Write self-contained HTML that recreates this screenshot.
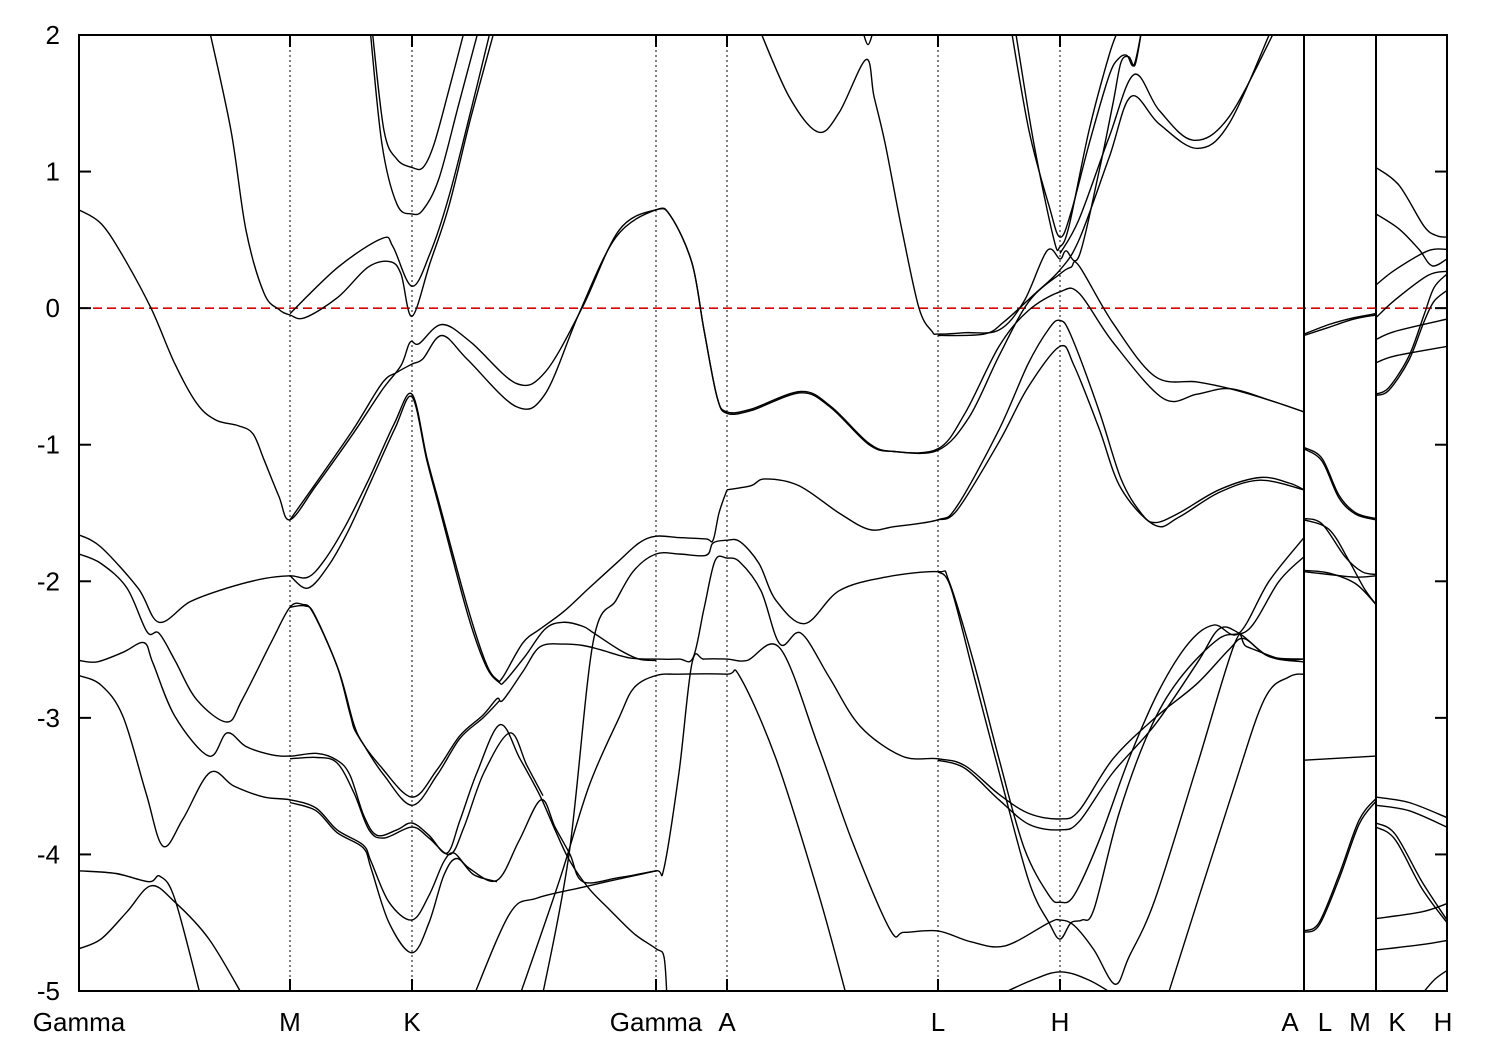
<!DOCTYPE html>
<html>
<head>
<meta charset="utf-8">
<style>
  html, body { margin: 0; padding: 0; background: #fff; }
  svg { display: block; }
  text { font-family: "Liberation Sans", "DejaVu Sans", sans-serif; font-size: 26px; fill: #000; }
</style>
</head>
<body>
<svg id="chart" width="1500" height="1050" viewBox="0 0 1500 1050" xmlns="http://www.w3.org/2000/svg">
  <defs>
    <clipPath id="plotClip"><rect x="79" y="35" width="1368" height="956"></rect></clipPath>
  </defs>
  <rect x="0" y="0" width="1500" height="1050" fill="#fff"></rect>
  <g id="gridG"></g>
  <g id="bandsG" clip-path="url(#plotClip)"></g>
  <g id="axesG"></g>
</svg>
<script>
const yTicks = [2, 1, 0, -1, -2, -3, -4, -5];
const symK = [0, 211, 333, 577, 648, 859, 981, 1225, 1297, 1368];
const symLabels = ["Gamma", "M", "K", "Gamma", "A", "L", "H", "A", "L", "M", "K", "H"];
const symLabelK = [0, 211, 333, 577, 648, 859, 981, 1211, 1246, 1281, 1318, 1364];
const dottedK = [211, 333, 577, 648, 859, 981];
const panelBreakK = [1225, 1297];
const fermiLevel = 0;

const bandA = [[0,0.72],[22,0.62],[44,0.38],[72,0],[96,-0.41],[118,-0.70],[137,-0.82],[159,-0.86],[174,-0.92],[185,-1.11],[200,-1.38],[211,-1.55],[237,-1.30],[274,-0.92],[303,-0.60],[322,-0.42],[331,-0.25],[340,-0.26],[363,-0.12],[392,-0.25],[437,-0.55],[466,-0.47],[503,0],[540,0.57],[577,0.72],[592,0.67],[613,0.33],[625,-0.16],[638,-0.65],[648,-0.76],[672,-0.74],[722,-0.61],[752,-0.72],[790,-0.99],[815,-1.05],[859,-1.03],[886,-0.77],[920,-0.28],[949,-0.02],[981,0.12],[1000,0.11],[1034,-0.25],[1084,-0.66],[1118,-0.63],[1151,-0.59],[1193,-0.68],[1225,-0.76]];
const bandB = [[211,-1.55],[237,-1.28],[274,-0.89],[303,-0.55],[318,-0.47],[333,-0.41],[344,-0.37],[363,-0.2],[389,-0.38],[437,-0.72],[466,-0.63],[500,-0.04],[537,0.52],[577,0.72],[592,0.67],[613,0.33],[625,-0.16],[638,-0.65],[648,-0.77],[672,-0.75],[722,-0.62],[752,-0.73],[790,-1.0],[815,-1.05],[859,-1.04],[890,-0.8],[920,-0.35],[950,0.05],[981,0.25],[992,0.30],[1000,0.31],[1034,-0.11],[1076,-0.5],[1118,-0.54],[1151,-0.59],[1193,-0.68],[1225,-0.76]];
const bandC1 = [[130,2.05],[152,1.30],[167,0.57],[185,0.11],[200,-0.01],[211,-0.05],[226,-0.07],[259,0.08],[289,0.30],[311,0.34],[322,0.25],[333,-0.06],[351,0.33],[370,0.75],[392,1.4],[416,2.05]];
const bandC2 = [[211,-0.04],[259,0.30],[303,0.51],[314,0.45],[333,0.16],[351,0.40],[370,0.82],[392,1.45],[412,2.05]];
const bandC3 = [[293,2.05],[305,1.3],[318,1.09],[333,1.03],[344,1.03],[355,1.2],[370,1.6],[386,2.05]];
const bandC4 = [[291,2.05],[303,1.2],[318,0.76],[333,0.69],[344,0.72],[360,0.95],[380,1.5],[400,2.05]];
const bandT = [[680,2.05],[710,1.55],[739,1.29],[760,1.43],[787,1.82],[795,1.55],[806,1.21],[823,0.57],[840,0],[853,-0.17],[859,-0.19],[886,-0.18],[920,-0.16],[945,0.05],[968,0.42],[981,0.36],[987,0.42],[1000,0.38],[1020,1.0],[1034,1.5],[1042,1.8],[1050,1.84],[1056,1.78],[1063,2.05]];
const bandT2 = [[859,-0.2],[905,-0.19],[925,-0.1],[955,0.1],[981,0.28],[1000,0.5],[1030,1.1],[1052,1.55],[1080,1.35],[1118,1.17],[1150,1.35],[1193,2.05]];
const bandP1 = [[932,2.05],[950,1.3],[970,0.75],[981,0.52],[992,0.7],[1010,1.2],[1030,1.7],[1040,1.83],[1048,1.85],[1055,1.78],[1063,2.05]];
const bandP2 = [[936,2.05],[955,1.2],[975,0.5],[981,0.45],[990,0.6],[1010,1.3],[1030,1.85],[1040,2.05]];
const bandP3 = [[981,0.4],[1000,0.65],[1030,1.25],[1055,1.71],[1080,1.45],[1114,1.23],[1150,1.4],[1197,2.05]];
const bandNotch = [[783,2.05],[789,1.93],[795,2.05]];
const bandD1 = [[648,-1.33],[672,-1.3],[686,-1.25],[720,-1.3],[760,-1.5],[790,-1.62],[815,-1.6],[859,-1.55],[878,-1.45],[920,-0.89],[949,-0.41],[970,-0.15],[981,-0.09],[992,-0.2],[1020,-0.75],[1042,-1.25],[1062,-1.5],[1076,-1.57],[1100,-1.5],[1140,-1.33],[1181,-1.24],[1210,-1.28],[1225,-1.33]];
const bandD2 = [[859,-1.55],[878,-1.48],[920,-0.98],[949,-0.58],[981,-0.28],[995,-0.42],[1020,-0.88],[1042,-1.32],[1076,-1.59],[1100,-1.53],[1140,-1.35],[1181,-1.26],[1225,-1.33]];
const bandGM1 = [[0,-1.66],[22,-1.75],[59,-2.05],[80,-2.30],[111,-2.15],[148,-2.05],[185,-1.98],[211,-1.96],[229,-1.97],[245,-1.85],[266,-1.60],[290,-1.25],[315,-0.85],[333,-0.63],[348,-1.1],[361,-1.45],[389,-2.2],[407,-2.6],[418,-2.72],[424,-2.70],[444,-2.45],[461,-2.35],[485,-2.22],[510,-2.05],[540,-1.85],[560,-1.72],[577,-1.67],[600,-1.68],[627,-1.69],[634,-1.70],[640,-1.5],[648,-1.33]];
const bandK2 = [[211,-1.96],[229,-2.05],[250,-1.88],[270,-1.62],[293,-1.25],[316,-0.88],[333,-0.65],[348,-1.12],[361,-1.48],[389,-2.25],[407,-2.62],[420,-2.74],[426,-2.73],[446,-2.55],[466,-2.35],[484,-2.30],[504,-2.33],[515,-2.38],[540,-2.5],[560,-2.57],[577,-2.58]];
const bandGM2 = [[0,-1.80],[22,-1.87],[48,-2.05],[68,-2.37],[80,-2.38],[96,-2.58],[118,-2.87],[148,-3.03],[163,-2.87],[192,-2.45],[211,-2.19],[224,-2.17],[234,-2.23],[258,-2.62],[271,-2.97],[278,-3.12],[301,-3.35],[333,-3.58],[358,-3.38],[381,-3.13],[404,-2.98],[418,-2.86],[424,-2.87],[444,-2.66],[461,-2.48],[484,-2.46],[504,-2.47],[521,-2.50],[550,-2.56],[577,-2.57],[600,-2.57],[614,-2.56],[625,-2.2],[636,-1.85],[648,-1.83],[661,-1.86],[682,-2.07],[701,-2.46],[722,-2.38],[750,-2.7],[781,-3.06],[823,-3.28],[859,-3.30],[886,-3.35],[920,-3.56],[950,-3.7],[981,-3.74],[1000,-3.68],[1034,-3.3],[1076,-3.0],[1118,-2.75],[1150,-2.5],[1165,-2.42],[1190,-2.55],[1225,-2.57]];
const bandMa2 = [[211,-2.19],[226,-2.18],[236,-2.25],[260,-2.66],[275,-3.05],[285,-3.2],[305,-3.42],[333,-3.64],[358,-3.42],[381,-3.15],[404,-3.0],[421,-2.87]];
const bandS1 = [[463,-5.05],[490,-4.0],[514,-2.45],[537,-2.14],[555,-1.92],[577,-1.80],[600,-1.80],[627,-1.81],[634,-1.72],[648,-1.70],[661,-1.71],[680,-1.87],[697,-2.14],[726,-2.31],[760,-2.07],[806,-1.97],[859,-1.93],[870,-2.0],[895,-2.6],[920,-3.3],[945,-3.95],[970,-4.3],[981,-4.35],[995,-4.3],[1020,-3.9],[1050,-3.3],[1080,-2.8],[1110,-2.45],[1135,-2.32],[1160,-2.38],[1190,-2.0],[1225,-1.68]];
const bandS2 = [[440,-5.05],[480,-4.2],[510,-3.5],[540,-3.0],[555,-2.78],[577,-2.69],[600,-2.68],[648,-2.68],[661,-2.70],[697,-3.3],[740,-4.3],[768,-5.05]];
const bandH2 = [[859,-1.93],[872,-2.05],[897,-2.75],[922,-3.45],[950,-4.2],[970,-4.5],[981,-4.62],[992,-4.5],[1003,-4.48],[1015,-4.4],[1040,-3.7],[1070,-3.1],[1100,-2.72],[1140,-2.42],[1170,-2.35],[1200,-2.0],[1225,-1.82]];
const bandH4 = [[859,-3.31],[886,-3.37],[920,-3.6],[950,-3.78],[981,-3.82],[1000,-3.76],[1034,-3.4],[1076,-3.05],[1118,-2.6],[1140,-2.35],[1160,-2.38],[1190,-2.55],[1225,-2.59]];
const bandH5 = [[900,-5.1],[950,-4.93],[981,-4.86],[1010,-4.92],[1040,-5.05]];
const bandH6 = [[1088,-5.05],[1151,-3.6],[1185,-2.87],[1210,-2.70],[1225,-2.68]];
const bandG5 = [[394,-5.05],[431,-4.43],[458,-4.32],[504,-4.24],[540,-4.18],[577,-4.12],[585,-4.1],[600,-3.4],[613,-2.6],[625,-2.57],[648,-2.57],[668,-2.58],[701,-2.49],[739,-3.2],[773,-3.9],[811,-4.55],[825,-4.57],[859,-4.56],[892,-4.64],[926,-4.67],[970,-4.5],[981,-4.48],[995,-4.52],[1015,-4.7],[1036,-4.95],[1050,-4.75],[1076,-4.33],[1118,-3.35],[1156,-2.45],[1168,-2.48],[1202,-2.57],[1225,-2.57]];
const bandGL1 = [[0,-4.12],[37,-4.14],[70,-4.20],[81,-4.16],[96,-4.33],[122,-5.05]];
const bandGL2 = [[0,-4.69],[22,-4.62],[48,-4.42],[72,-4.23],[96,-4.35],[130,-4.62],[165,-5.05]];
const bandGM3 = [[0,-2.58],[18,-2.59],[44,-2.52],[65,-2.45],[74,-2.60],[96,-2.99],[130,-3.28],[148,-3.11],[167,-3.21],[192,-3.27],[211,-3.28],[238,-3.26],[258,-3.31],[271,-3.42],[285,-3.72],[298,-3.86],[318,-3.82],[333,-3.77],[350,-3.86],[368,-3.99],[381,-3.75],[398,-3.40],[421,-3.05],[441,-3.30],[461,-3.57],[476,-3.82],[491,-4.05],[510,-4.25],[530,-4.40],[555,-4.58],[577,-4.69],[585,-4.75],[588,-5.05]];
const bandMb2 = [[211,-3.30],[238,-3.29],[258,-3.33],[275,-3.55],[290,-3.82],[305,-3.88],[333,-3.80],[350,-3.88],[371,-4.0],[385,-3.8],[405,-3.40],[431,-3.11],[448,-3.35],[464,-3.57]];
const bandGM4 = [[0,-2.69],[22,-2.76],[44,-2.99],[67,-3.55],[84,-3.94],[104,-3.74],[131,-3.40],[155,-3.50],[185,-3.58],[211,-3.60],[237,-3.66],[258,-3.82],[284,-3.93],[292,-4.05],[310,-4.35],[333,-4.48],[350,-4.30],[365,-4.05],[375,-3.99],[390,-4.10],[418,-4.19],[440,-3.9],[462,-3.60],[476,-3.8],[491,-4.0],[504,-4.2],[540,-4.17],[577,-4.12]];
const bandMe = [[211,-3.62],[237,-3.68],[258,-3.84],[284,-3.95],[292,-4.1],[310,-4.5],[333,-4.72],[350,-4.5],[365,-4.15],[378,-4.03],[395,-4.15],[418,-4.2]];
const bandR1 = [[1225,-0.19],[1250,-0.12],[1275,-0.07],[1297,-0.04]];
const bandR2 = [[1225,-0.2],[1250,-0.14],[1275,-0.08],[1297,-0.05]];
const bandR3 = [[1225,-1.02],[1243,-1.1],[1260,-1.37],[1277,-1.5],[1297,-1.54]];
const bandR4 = [[1225,-1.03],[1243,-1.12],[1260,-1.39],[1277,-1.51],[1297,-1.55]];
const bandR5 = [[1225,-1.54],[1243,-1.58],[1266,-1.82],[1283,-1.93],[1297,-1.95]];
const bandR6 = [[1225,-1.55],[1250,-1.62],[1270,-1.85],[1285,-2.05],[1297,-2.17]];
const bandR7 = [[1225,-1.92],[1250,-1.94],[1277,-2.02],[1297,-2.17]];
const bandR8 = [[1225,-1.93],[1250,-1.95],[1277,-1.97],[1297,-1.96]];
const bandR9 = [[1225,-3.31],[1297,-3.28]];
const bandR10 = [[1225,-4.56],[1240,-4.5],[1260,-4.15],[1280,-3.75],[1297,-3.59]];
const bandR11 = [[1225,-4.57],[1240,-4.52],[1260,-4.18],[1280,-3.78],[1297,-3.61]];
const bandK1 = [[1297,1.03],[1320,0.9],[1345,0.6],[1358,0.53],[1368,0.52]];
const bandK2b = [[1297,0.69],[1320,0.58],[1340,0.43],[1353,0.31],[1368,0.36]];
const bandK3 = [[1297,0.17],[1316,0.28],[1349,0.42],[1368,0.43]];
const bandK4 = [[1297,-0.07],[1316,0.06],[1349,0.24],[1368,0.27]];
const bandK5 = [[1297,-0.23],[1316,-0.17],[1368,-0.08]];
const bandK6 = [[1297,-0.40],[1316,-0.35],[1368,-0.28]];
const bandK7 = [[1297,-0.63],[1310,-0.58],[1330,-0.35],[1345,-0.05],[1355,0.15],[1368,0.25]];
const bandK8 = [[1297,-0.64],[1310,-0.6],[1330,-0.38],[1345,-0.1],[1355,0.05],[1368,0.13]];
const bandK9 = [[1297,-3.58],[1330,-3.62],[1368,-3.73]];
const bandK10 = [[1297,-3.64],[1330,-3.68],[1368,-3.80]];
const bandK11 = [[1297,-3.77],[1316,-3.85],[1343,-4.2],[1368,-4.48]];
const bandK12 = [[1297,-3.80],[1316,-3.89],[1343,-4.25],[1368,-4.50]];
const bandK13 = [[1297,-4.47],[1343,-4.42],[1368,-4.36]];
const bandK14 = [[1297,-4.70],[1343,-4.66],[1368,-4.63]];
const bandK15 = [[1340,-5.05],[1355,-4.92],[1368,-4.85]];

const bands = [bandA, bandB, bandC1, bandC2, bandC3, bandC4, bandT, bandT2, bandP1, bandP2, bandP3, bandNotch,
  bandD1, bandD2, bandGM1, bandK2, bandGM2, bandMa2, bandS1, bandS2, bandH2, bandH4, bandH5, bandH6, bandG5,
  bandGL1, bandGL2, bandGM3, bandMb2, bandGM4, bandMe,
  bandR1, bandR2, bandR3, bandR4, bandR5, bandR6, bandR7, bandR8, bandR9, bandR10, bandR11,
  bandK1, bandK2b, bandK3, bandK4, bandK5, bandK6, bandK7, bandK8, bandK9, bandK10, bandK11, bandK12, bandK13, bandK14, bandK15];

const NS = "http://www.w3.org/2000/svg";
const plot = { left: 79, right: 1447, top: 35, bottom: 991 };
const kMin = 0, kMax = 1368, eMin = -5, eMax = 2;
function xScale(k) { return plot.left + (k - kMin) / (kMax - kMin) * (plot.right - plot.left); }
function yScale(e) { return plot.top + (eMax - e) / (eMax - eMin) * (plot.bottom - plot.top); }

function mk(tag, attrs, parent) {
  const el = document.createElementNS(NS, tag);
  for (const a in attrs) el.setAttribute(a, attrs[a]);
  parent.appendChild(el);
  return el;
}

function smoothPath(pts) {
  const p = pts.map(d => [xScale(d[0]), yScale(d[1])]);
  if (p.length < 3) return "M" + p.map(q => q[0].toFixed(1) + "," + q[1].toFixed(1)).join(" L");
  let s = "M" + p[0][0].toFixed(1) + "," + p[0][1].toFixed(1);
  for (let i = 0; i < p.length - 1; i++) {
    const p0 = p[i - 1] || p[i], p1 = p[i], p2 = p[i + 1], p3 = p[i + 2] || p2;
    const c1x = p1[0] + (p2[0] - p0[0]) / 6, c1y = p1[1] + (p2[1] - p0[1]) / 6;
    const c2x = p2[0] - (p3[0] - p1[0]) / 6, c2y = p2[1] - (p3[1] - p1[1]) / 6;
    s += " C" + c1x.toFixed(1) + "," + c1y.toFixed(1) + " " + c2x.toFixed(1) + "," + c2y.toFixed(1) + " " + p2[0].toFixed(1) + "," + p2[1].toFixed(1);
  }
  return s;
}

const gridG = document.getElementById("gridG");
const bandsG = document.getElementById("bandsG");
const axesG = document.getElementById("axesG");

dottedK.forEach(k => {
  const l = mk("line", { x1: xScale(k), x2: xScale(k), y1: plot.top, y2: plot.bottom, stroke: "#000", "stroke-width": 1, "stroke-dasharray": "2,3" }, gridG);
  
  
});

const fl = mk("line", { x1: plot.left, x2: plot.right, y1: yScale(fermiLevel), y2: yScale(fermiLevel), stroke: "#e00000", "stroke-width": 1.6, "stroke-dasharray": "9,5" }, gridG);



bands.forEach(b => {
  const path = mk("path", { d: smoothPath(b), fill: "none", stroke: "#000", "stroke-width": 1.4 }, bandsG);
  
  
});

panelBreakK.forEach(k => {
  const l = mk("line", { x1: xScale(k), x2: xScale(k), y1: plot.top, y2: plot.bottom, stroke: "#000", "stroke-width": 2 }, axesG);
  
  
});

const frame = mk("rect", { x: plot.left, y: plot.top, width: plot.right - plot.left, height: plot.bottom - plot.top, fill: "none", stroke: "#000", "stroke-width": 2 }, axesG);



yTicks.forEach(v => {
  const y = yScale(v);
  const t1 = mk("line", { x1: plot.left, x2: plot.left + 12, y1: y, y2: y, stroke: "#000", "stroke-width": 2 }, axesG);
  
  
  const t2 = mk("line", { x1: plot.right - 12, x2: plot.right, y1: y, y2: y, stroke: "#000", "stroke-width": 2 }, axesG);
  
  
  const tx = mk("text", { x: 60, y: y + 9, "text-anchor": "end" }, axesG);
  tx.textContent = String(v);
  
  
});

symK.forEach(k => {
  const x = xScale(k);
  const t1 = mk("line", { x1: x, x2: x, y1: plot.bottom - 12, y2: plot.bottom, stroke: "#000", "stroke-width": 2 }, axesG);
  
  
  const t2 = mk("line", { x1: x, x2: x, y1: plot.top, y2: plot.top + 12, stroke: "#000", "stroke-width": 2 }, axesG);
  
  
});

symLabels.forEach((lab, i) => {
  const tx = mk("text", { x: xScale(symLabelK[i]), y: 1031, "text-anchor": "middle" }, axesG);
  tx.textContent = lab;
  
  
});
</script>
</body>
</html>
